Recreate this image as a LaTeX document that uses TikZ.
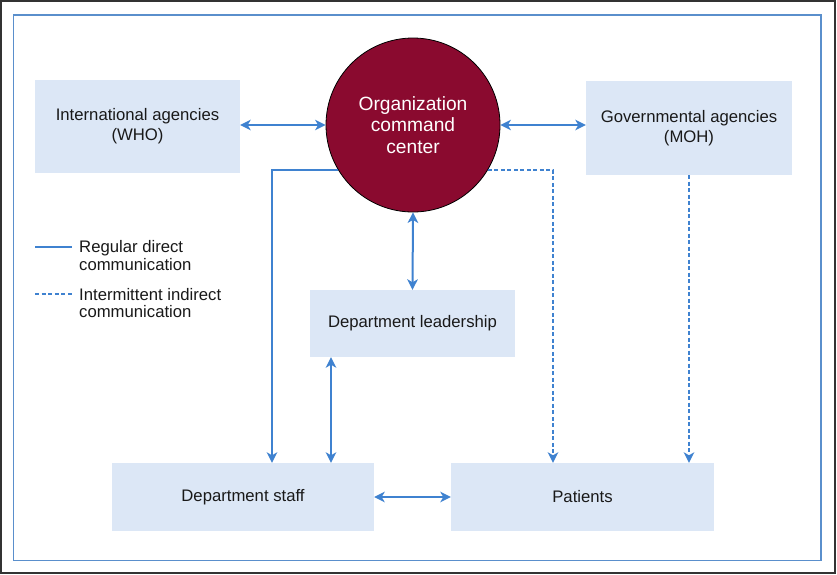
\documentclass[tikz,border=0pt]{standalone}
\usepackage{fontspec}
\setmainfont{Liberation Sans}
\usetikzlibrary{arrows.meta,positioning,calc}
\definecolor{maroon}{HTML}{8A0A2F}
\definecolor{boxblue}{HTML}{DCE7F6}
\definecolor{lineblue}{HTML}{3F82D0}
\definecolor{frameblue}{HTML}{5A8FCC}
\tikzset{
  box/.style={rectangle, fill=boxblue, inner sep=0pt, align=center, font=\fontsize{16.7}{20}\selectfont, text=black!90},
  tip/.style={Stealth[length=10.5pt,width=10.5pt,inset=3pt]},
  link/.style={draw=lineblue, line width=2pt, {Stealth[length=10.5pt,width=10.5pt,inset=3pt]}-{Stealth[length=10.5pt,width=10.5pt,inset=3pt]}},
  onelink/.style={draw=lineblue, line width=2pt, -{Stealth[length=10.5pt,width=10.5pt,inset=3pt]}},
  dashlink/.style={onelink, dash pattern=on 4pt off 2.5pt},
  legtext/.style={anchor=west, align=left, inner sep=0pt, font=\fontsize{16.7}{17.5}\selectfont, text=black!90},
}
\begin{document}
\begin{tikzpicture}[x=1pt,y=-1pt]
\useasboundingbox (0,0) rectangle (837,574);
\fill[white] (0,0) rectangle (837,574);
\draw[black!80, line width=1.5pt] (1,1) rectangle (835,573);
\draw[frameblue, line width=1.4pt] (13.5,15) rectangle (821,560.5);

\node[box, minimum width=205pt, minimum height=93pt] (who) at (137.5,126.5) {International agencies\\(WHO)};
\node[circle, fill=maroon, draw=black, line width=0.8pt, minimum size=174pt, inner sep=0pt, align=center, text=white, font=\fontsize{19.2}{21.5}\selectfont] (occ) at (413,125) {Organization\\command\\center};
\node[box, minimum width=206pt, minimum height=94pt] (moh) at (689,128) {Governmental agencies\\(MOH)};
\node[box, minimum width=205pt, minimum height=67pt] (lead) at (412.5,323.5) {Department leadership};
\node[box, minimum width=262pt, minimum height=68pt] (staff) at (243,497) {Department staff};
\node[box, minimum width=263pt, minimum height=68pt] (pat) at (582.5,497) {Patients};

\draw[link] (who.east |- occ.center) -- (occ.west);
\draw[link] (occ.east) -- (occ.east -| moh.west);
\draw[link] (occ.south) -- (lead.north);
\draw[link] ([xshift=-81.5pt]lead.south) -- ([xshift=-81.5pt]lead.south |- staff.north);
\draw[link] (staff.east) -- (pat.west);
\draw[onelink] (occ.211) -| ([xshift=29pt]staff.north);
\draw[dashlink] (occ.329) -| ([xshift=-29.5pt]pat.north);
\draw[dashlink] (moh.south) -- (moh.south |- pat.north);

\node[legtext] (leg1) at (79,255.5) {Regular direct\\communication};
\node[legtext] (leg2) at (79,303) {Intermittent indirect\\communication};
\coordinate (l1a) at (35,247);
\coordinate (l1b) at (72,247);
\coordinate (l2a) at (35,294);
\coordinate (l2b) at (72,294);
\draw[lineblue, line width=1.3pt] (l1a) -- (l1b);
\draw[lineblue, line width=1.3pt, dash pattern=on 4pt off 2.6pt] (l2a) -- (l2b);
\end{tikzpicture}
\end{document}
